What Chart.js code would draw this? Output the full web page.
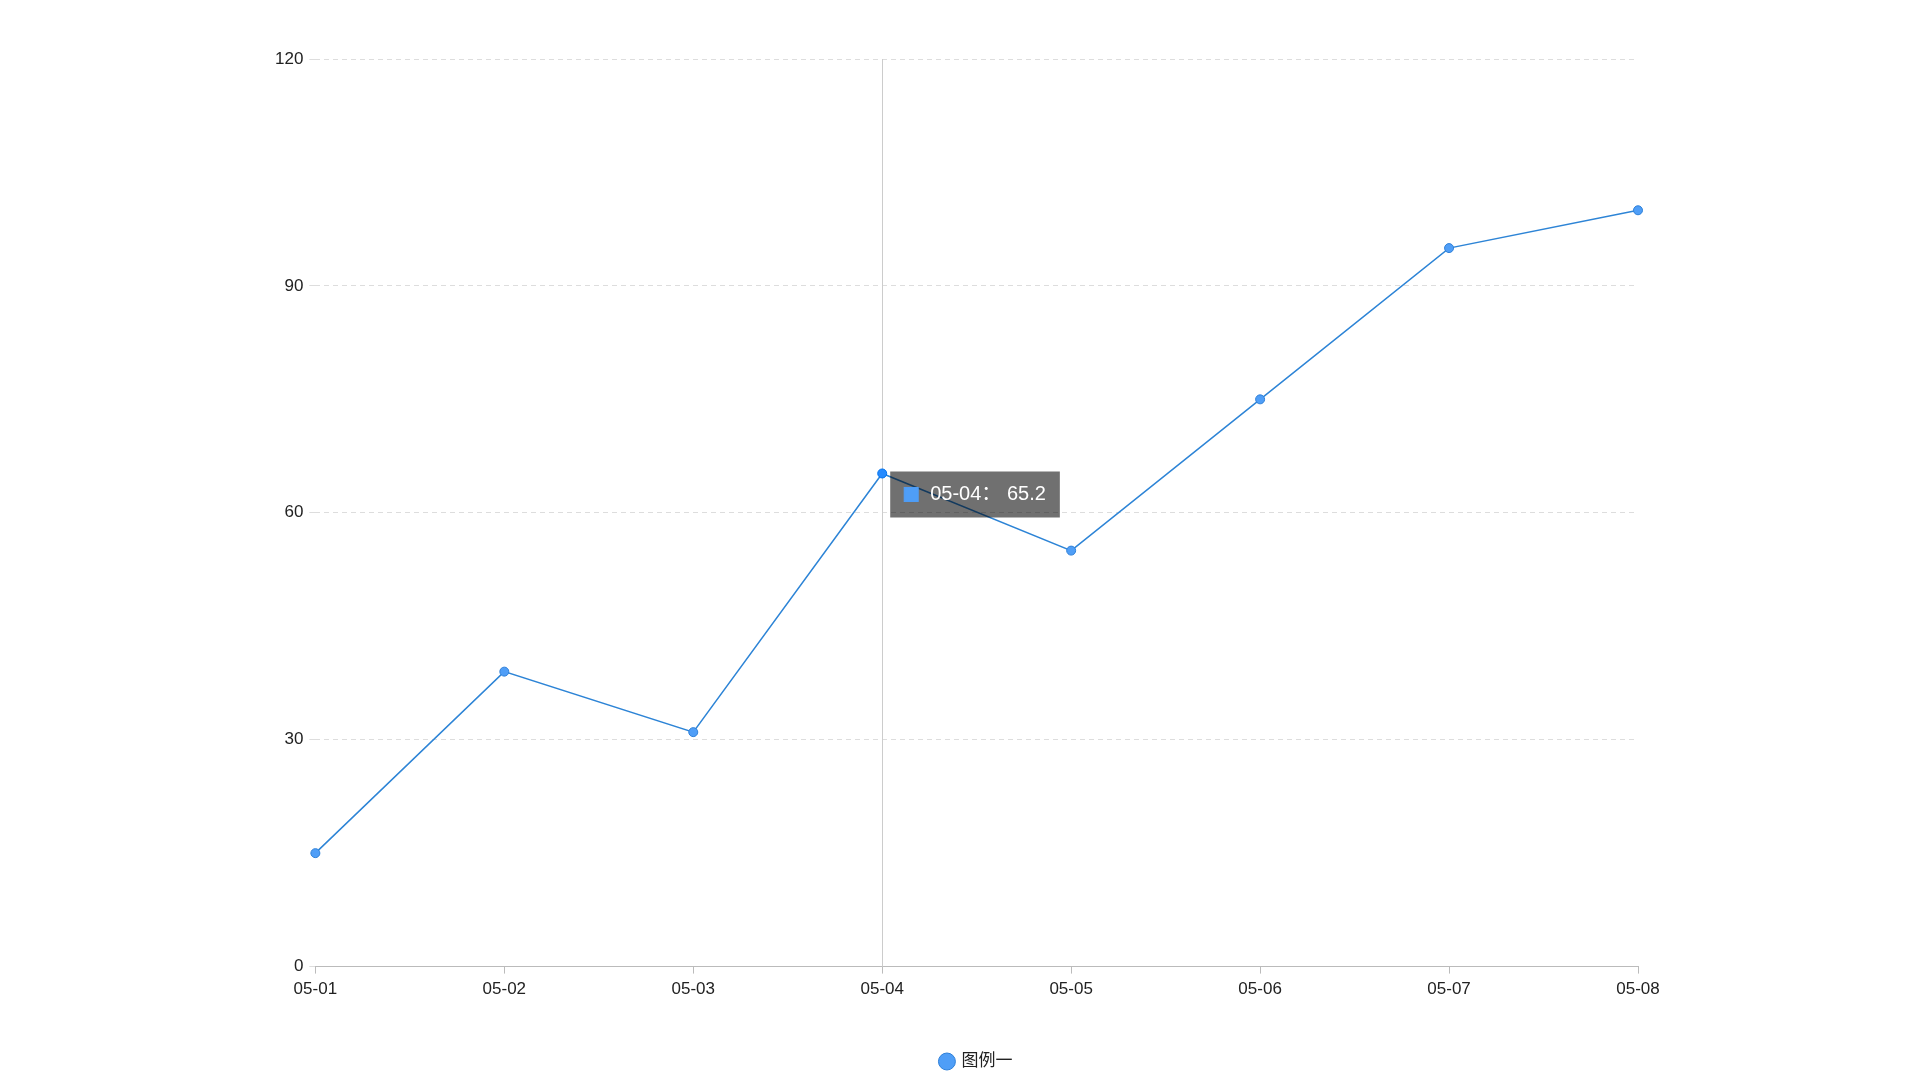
<!DOCTYPE html>
<html>
<head>
<meta charset="utf-8">
<script src="https://cdn.jsdelivr.net/npm/chart.js@4.4.0/dist/chart.umd.min.js"></script>
<style>
  html, body { margin: 0; padding: 0; background: #fff; }
  #wrap { width: 1920px; height: 1080px; }
</style>
</head>
<body>
<div id="wrap"><canvas id="lineChart" width="1920" height="1080"></canvas></div>
<script>
const dates = ['05-01', '05-02', '05-03', '05-04', '05-05', '05-06', '05-07', '05-08']
const values = [15, 39, 31, 65.2, 55, 75, 95, 100]
const yTicks = [0, 30, 60, 90, 120]
const seriesName = '图例一'
const activeIndex = 3

const fontFamily = '"Liberation Sans", Arial, "Noto Sans CJK SC", sans-serif'

Chart.Tooltip.positioners.nextToPoint = function (elements) {
  if (!elements.length) return false
  const el = elements[0].element
  return { x: el.x + 8, y: el.y - 2 }
}

// vertical guide line under the hovered point
const crosshair = {
  id: 'crosshair',
  beforeDatasetsDraw(chart) {
    const x = chart.scales.x.getPixelForValue(activeIndex)
    const { top, bottom } = chart.chartArea
    const ctx = chart.ctx
    ctx.save()
    ctx.strokeStyle = '#cccccc'
    ctx.lineWidth = 1
    ctx.beginPath()
    ctx.moveTo(Math.round(x) + 0.5, top)
    ctx.lineTo(Math.round(x) + 0.5, bottom)
    ctx.stroke()
    ctx.restore()
  }
}

const data = {
  labels: dates,
  datasets: [{
    label: seriesName,
    data: values,
    fill: false,
    borderColor: '#2d84d6',
    borderWidth: 1.5,
    backgroundColor: '#4f9ef7',
    pointBackgroundColor: '#4f9ef7',
    pointBorderColor: '#2f80d8',
    pointBorderWidth: 1,
    pointRadius: 4.5,
    pointHoverRadius: 4.5,
    pointHoverBorderWidth: 1,
    tension: 0
  }]
}

const lineConfig = {
  type: 'line',
  data: data,
  plugins: [crosshair],
  options: {
    responsive: false,
    animation: false,
    events: [],
    layout: { padding: { left: 269, right: 282, top: 59, bottom: 0 } },
    scales: {
      x: {
        offset: false,
        afterFit: axis => { axis.height += 35 },
        grid: { display: true, drawOnChartArea: false, color: '#bbbbbb', tickLength: 7 },
        border: { display: true, color: '#bbbbbb' },
        ticks: { color: '#222', padding: 6, maxRotation: 0, font: { family: fontFamily, size: 17 } }
      },
      y: {
        min: 0,
        max: 120,
        afterBuildTicks: axis => { axis.ticks = yTicks.map(v => ({ value: v })) },
        grid: { color: '#dddddd', tickLength: 6, drawTicks: true },
        border: { display: false, dash: [5, 4] },
        ticks: { color: '#222', padding: 6, font: { family: fontFamily, size: 17 } }
      }
    },
    plugins: {
      legend: {
        position: 'bottom',
        fullSize: false,
        labels: {
          usePointStyle: true,
          pointStyle: 'circle',
          boxWidth: 12,
          boxHeight: 12,
          padding: 12,
          color: '#222',
          font: { family: fontFamily, size: 17 }
        }
      },
      tooltip: {
        position: 'nextToPoint',
        xAlign: 'left',
        yAlign: 'top',
        caretSize: 0,
        caretPadding: 0,
        cornerRadius: 0,
        backgroundColor: 'rgba(0, 0, 0, 0.56)',
        padding: { x: 14, y: 11 },
        bodyColor: '#fff',
        bodyFont: { family: fontFamily, size: 20 },
        displayColors: true,
        boxWidth: 14,
        boxHeight: 14,
        boxPadding: 10,
        multiKeyBackground: '#4f9ef7',
        callbacks: {
          title: () => '',
          label: ctx => ctx.label + '： ' + ctx.parsed.y,
          labelColor: () => ({ borderColor: '#4f9ef7', backgroundColor: '#4f9ef7', borderWidth: 0 })
        }
      }
    }
  }
}

const myChart = new Chart(document.getElementById('lineChart'), lineConfig)

const pt = myChart.getDatasetMeta(0).data[activeIndex]
myChart.setActiveElements([{ datasetIndex: 0, index: activeIndex }])
myChart.tooltip.setActiveElements([{ datasetIndex: 0, index: activeIndex }], { x: pt.x, y: pt.y })
myChart.update()
</script>
</body>
</html>
